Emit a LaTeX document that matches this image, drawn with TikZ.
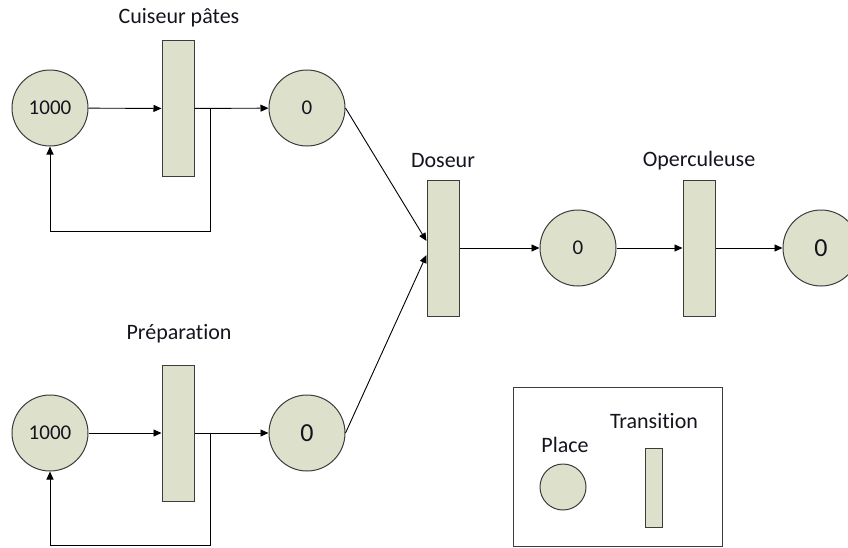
\documentclass[tikz,border=0pt]{standalone}
\usepackage{fontspec}
\setmainfont{Carlito}[Ligatures=NoCommon]
\usetikzlibrary{arrows.meta,calc}
\definecolor{pfill}{RGB}{221,225,204}
\definecolor{pdraw}{RGB}{60,60,60}
\definecolor{txt}{RGB}{20,20,30}
\begin{document}
\begin{tikzpicture}[x=1pt,y=-1pt,
  place/.style={circle,draw=pdraw,fill=pfill,line width=1pt,minimum size=76pt,inner sep=0pt,text=txt,font=\fontsize{21}{25}\selectfont},
  bigtok/.style={font=\fontsize{26}{31}\selectfont},
  trans/.style={rectangle,draw=pdraw,fill=pfill,line width=1pt,minimum width=32pt,minimum height=136pt,inner sep=0pt},
  lbl/.style={text=txt,font=\fontsize{22}{26}\selectfont,inner sep=0pt},
  arr/.style={draw=black,line width=0.9pt,-{Triangle[length=8pt,width=7pt]}},
  ln/.style={draw=black,line width=0.9pt}]
\useasboundingbox (0,0) rectangle (848,547);
% top branch
\node[place] (P1) at (50,108) {1000};
\node[trans] (T1) at (178,108.5) {};
\node[lbl] (L1) at (179,18) {Cuiseur pâtes};
\node[place] (P2) at (307,108) {0};
% bottom branch
\node[place] (P3) at (50,433) {1000};
\node[trans] (T2) at (178,433) {};
\node[lbl] (L2) at (179,334) {Préparation};
\node[place,bigtok] (P4) at (307,433) {0};
% right part
\node[trans] (T3) at (443,248) {};
\node[lbl] (L3) at (443,161) {Doseur};
\node[place] (P5) at (578,248) {0};
\node[trans] (T4) at (699,248) {};
\node[lbl] (L4) at (699,161) {Operculeuse};
\node[place,bigtok] (P6) at (821,248) {0};
% legend
\node[draw=pdraw,line width=1pt,minimum width=209pt,minimum height=159pt,inner sep=0pt] (LG) at (617.5,466.5) {};
\node[place,minimum size=46pt] (LP) at (563,487) {};
\node[trans,minimum width=17pt,minimum height=79pt] (LT) at (653.5,487.5) {};
\node[lbl] (LL1) at (565,445) {Place};
\node[lbl] (LL2) at (654,421) {Transition};
% arcs
\draw[arr] (P1) -- (T1);
\draw[arr] (T1) -- (P2);
\coordinate (f1) at (210,108.5);
\coordinate (b1) at (210,231);
\draw[arr] (f1) -- (b1) -| (P1.south);
\draw[arr] (P3) -- (T2);
\draw[arr] (T2) -- (P4);
\coordinate (f2) at (210,433);
\coordinate (b2) at (210,545);
\draw[arr] (f2) -- (b2) -| (P3.south);
\coordinate (d1) at ($(T3.west)+(0,-7)$);
\coordinate (d2) at ($(T3.west)+(0,7)$);
\draw[arr] (P2.east) -- (d1);
\draw[arr] (P4.east) -- (d2);
\draw[arr] (T3) -- (P5);
\draw[arr] (P5) -- (T4);
\draw[arr] (T4) -- (P6);
\end{tikzpicture}
\end{document}
